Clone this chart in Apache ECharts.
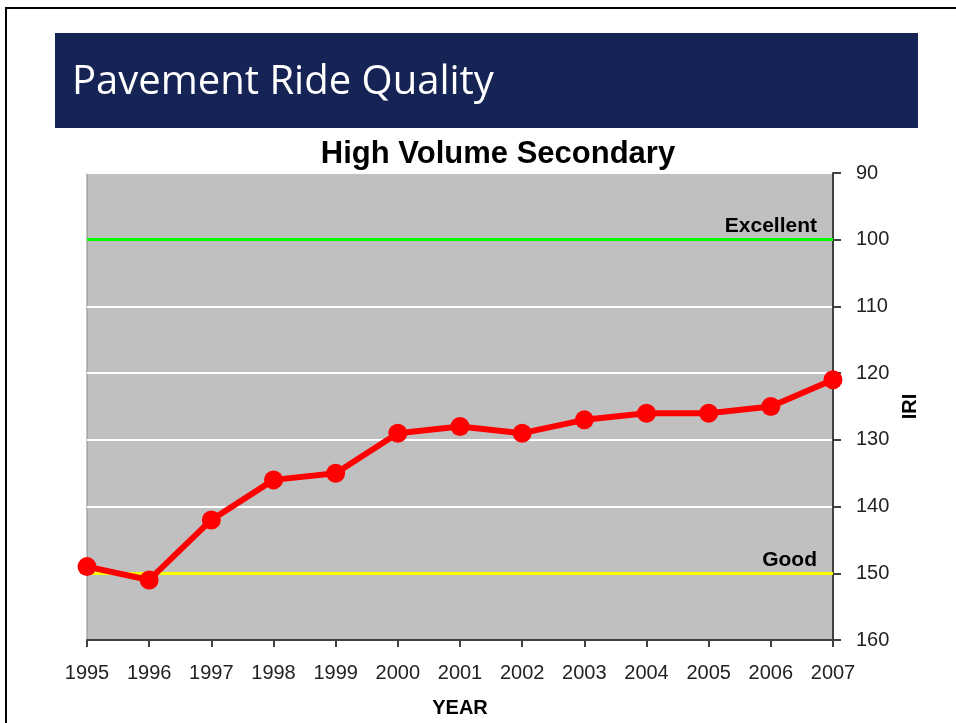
<!DOCTYPE html>
<html>
<head>
<meta charset="utf-8">
<script src="https://cdn.jsdelivr.net/npm/echarts@6/dist/echarts.min.js"></script>
<style>
  html, body { margin: 0; padding: 0; background: #fff; }
  #chart { width: 956px; height: 723px; }
</style>
</head>
<body>
<div id="chart"></div>
<script>
// 数据
const years = ['1995', '1996', '1997', '1998', '1999', '2000', '2001', '2002', '2003', '2004', '2005', '2006', '2007'];
const iri = [149, 151, 142, 136, 135, 129, 128, 129, 127, 126, 126, 125, 121];
const yTicks = { min: 90, max: 160, step: 10 };
const targets = [
  { name: 'Excellent', value: 100, color: '#00ff00' },
  { name: 'Good', value: 150, color: '#ffff00' }
];

const chart = echarts.init(document.getElementById('chart'));

const option = {
  backgroundColor: '#fff',
  animation: false,
  title: {
    text: 'High Volume Secondary',
    left: 493,
    textAlign: 'center',
    top: 134,
    textStyle: {
      fontFamily: 'Liberation Sans',
      fontWeight: 'bold',
      fontSize: 31,
      color: '#000'
    }
  },
  graphic: [
    // 外框
    { type: 'rect', shape: { x: 6, y: 8, width: 960, height: 730 }, style: { fill: 'none', stroke: '#000', lineWidth: 2 } },
    // 标题栏
    { type: 'rect', shape: { x: 55, y: 33, width: 863, height: 95 }, style: { fill: '#162455' } },
    {
      type: 'text', left: 72, top: 63,
      style: { text: 'Pavement Ride Quality', fill: '#fff', font: '40px "Open Sans"' }
    }
  ],
  grid: {
    left: 87,
    right: 123,
    top: 173,
    bottom: 82,
    show: true,
    backgroundColor: '#c0c0c0',
    borderColor: '#8a8a8a',
    borderWidth: 1
  },
  xAxis: {
    type: 'category',
    data: years,
    boundaryGap: false,
    name: 'YEAR',
    nameLocation: 'middle',
    nameGap: 58,
    nameTextStyle: { fontFamily: 'Liberation Sans', fontWeight: 'bold', fontSize: 20, color: '#000' },
    axisLine: { lineStyle: { color: '#404040', width: 2 } },
    axisTick: { show: true, length: 7, alignWithLabel: true, lineStyle: { color: '#404040', width: 2 } },
    axisLabel: { fontFamily: 'Liberation Sans', fontSize: 20, color: '#222', margin: 23 },
    splitLine: { show: false }
  },
  yAxis: {
    type: 'value',
    position: 'right',
    inverse: true,
    min: yTicks.min,
    max: yTicks.max,
    interval: yTicks.step,
    name: 'IRI',
    nameLocation: 'middle',
    nameRotate: 90,
    nameGap: 63,
    nameTextStyle: { fontFamily: 'Liberation Sans', fontWeight: 'bold', fontSize: 20, color: '#000' },
    axisLine: { show: true, lineStyle: { color: '#404040', width: 2 } },
    axisTick: { show: true, length: 8, lineStyle: { color: '#404040', width: 2 } },
    axisLabel: { fontFamily: 'Liberation Sans', fontSize: 20, color: '#222', margin: 23 },
    splitLine: { show: true, lineStyle: { color: '#ffffff', width: 2 } }
  },
  series: [
    {
      type: 'line',
      data: iri,
      symbol: 'circle',
      symbolSize: 19,
      lineStyle: { color: '#ff0000', width: 6 },
      itemStyle: { color: '#ff0000' },
      z: 5,
      markLine: {
        silent: true,
        symbol: 'none',
        data: targets.map(t => ({
          yAxis: t.value,
          lineStyle: { color: t.color, width: 3, type: 'solid' },
          label: {
            show: true,
            formatter: t.name,
            position: 'insideEndTop',
            distance: [16, 3],
            fontFamily: 'Liberation Sans',
            fontWeight: 'bold',
            fontSize: 21,
            color: '#000'
          }
        })),
        z: 2
      }
    }
  ]
};

chart.setOption(option);
</script>
</body>
</html>
